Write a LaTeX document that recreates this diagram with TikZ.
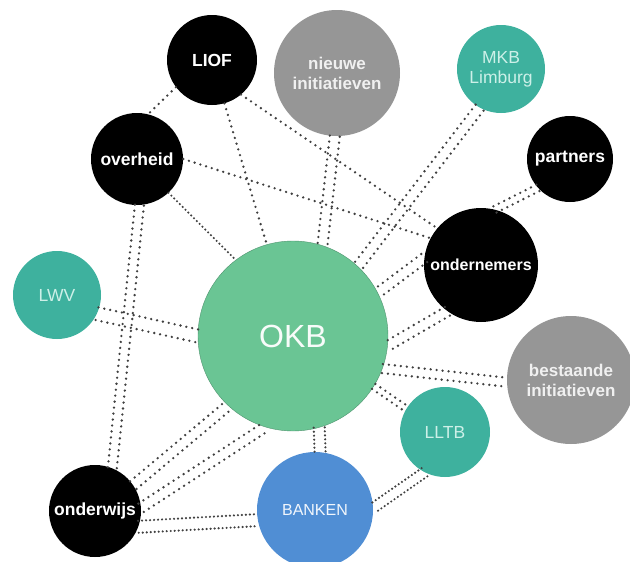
\documentclass[tikz,border=0pt]{standalone}
\usepackage{fontspec}
\setsansfont{Liberation Sans}
\usetikzlibrary{calc}
\definecolor{okbgreen}{RGB}{106,197,148}
\definecolor{tealbol}{RGB}{62,177,158}
\definecolor{blauwbol}{RGB}{80,142,212}
\definecolor{grijsbol}{RGB}{150,150,150}
\definecolor{tealtekst}{RGB}{205,240,232}
\tikzset{>=stealth}
\newcommand{\dubbel}[4][link]{%
  \draw[#1] ($(#3)!#2!90:(#4)$) -- ($(#4)!#2!-90:(#3)$);
  \draw[#1] ($(#3)!#2!-90:(#4)$) -- ($(#4)!#2!90:(#3)$);}

\begin{document}
\begin{tikzpicture}[x=1pt, y=-1pt,
    bol/.style={circle, inner sep=0pt, align=center, font=\sffamily\fontsize{17.5}{20}\selectfont},
    zwart/.style={bol, fill=black, text=white, font=\sffamily\bfseries\fontsize{17.5}{20}\selectfont},
    grijs/.style={bol, fill=grijsbol, text=white!94!black, font=\sffamily\bfseries\fontsize{17}{20}\selectfont},
    teal/.style={bol, fill=tealbol, text=tealtekst},
    link/.style={black!75, line width=2.6pt, line cap=round, dash pattern=on 0pt off 6pt},
    fijn/.style={link, dash pattern=on 0pt off 4pt, line width=2.4pt}]
    \useasboundingbox (0,0) rectangle (630,562);
    \node[bol, minimum size=190pt, fill=okbgreen, draw=okbgreen!75!black, line width=0.4pt,
          text=white!95!okbgreen, font=\sffamily\fontsize{32}{36}\selectfont] (okb) at (293,336) {OKB};
    \node[zwart, minimum size=90pt] (liof) at (212,60) {LIOF};
    \node[grijs, minimum size=126pt] (nieuw) at (337,73) {nieuwe\\initiatieven};
    \node[teal, minimum size=88pt] (mkb) at (501,69) {MKB\\Limburg};
    \node[zwart, minimum size=92pt] (overheid) at (137,159) {overheid};
    \node[zwart, minimum size=86pt] (partners) at (570,159) {partners};
    \node[zwart, minimum size=114pt, font=\sffamily\bfseries\fontsize{16}{20}\selectfont] (ondern) at (481,265) {ondernemers};
    \node[teal, minimum size=88pt] (lwv) at (57,295) {LWV};
    \node[grijs, minimum size=128pt] (bestaand) at (571,380) {bestaande\\initiatieven};
    \node[teal, minimum size=90pt] (lltb) at (445,432) {LLTB};
    \node[bol, minimum size=116pt, fill=blauwbol, text=white!92!blauwbol,
          font=\sffamily\fontsize{16}{20}\selectfont] (banken) at (315,510) {BANKEN};
    \node[zwart, minimum size=92pt] (onderwijs) at (95,511) {onderwijs};

    \draw[link] (liof.217) -- (overheid.76);
    \draw[link] (liof.-74) -- (okb.106);
    \draw[link] (liof.-50) -- (ondern.140);
    \draw[link] (overheid.0) -- (ondern.152);
    \draw[fijn] (overheid.-47) -- (okb.127);
    \dubbel{4.5pt}{overheid.-87}{onderwijs.68}
    \dubbel{5pt}{nieuw.-92}{okb.72}
    \dubbel{5pt}{mkb.241}{okb.47}
    \dubbel{3.5pt}{partners.222}{ondern.76}
    \dubbel{5pt}{ondern.173}{okb.27}
    \dubbel{5pt}{ondern.234}{okb.-6}
    \dubbel{6.5pt}{lwv.-25}{okb.180}
    \dubbel{4.5pt}{okb.-20}{bestaand.182}
    \dubbel{3pt}{okb.-32}{lltb.149}
    \dubbel[fijn]{5.5pt}{okb.-74.6}{banken.85}
    \dubbel{5pt}{onderwijs.34}{okb.227}
    \dubbel{5pt}{onderwijs.4}{okb.253}
    \dubbel[fijn]{6pt}{onderwijs.-20}{banken.190}
    \dubbel[fijn]{5pt}{lltb.243}{banken.2}
\end{tikzpicture}
\end{document}
